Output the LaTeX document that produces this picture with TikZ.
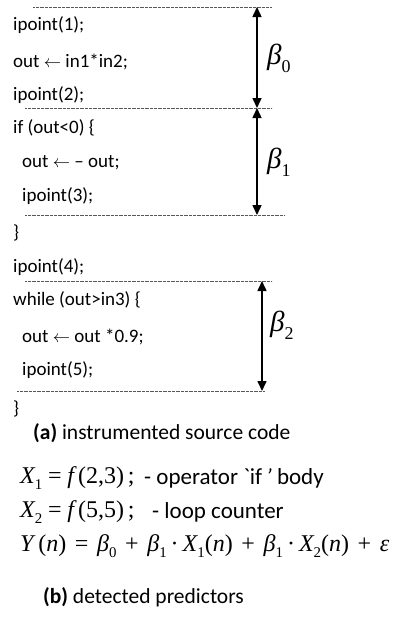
\documentclass[tikz,border=0pt]{standalone}
\usepackage{fontspec}
\setmainfont{Carlito}
\newfontfamily\tms{Liberation Serif}
\usetikzlibrary{arrows.meta}
\newcommand\mi[1]{{\tms\itshape #1}}
\newcommand\mr[1]{{\tms #1}}
\newcommand\sbs[1]{\raisebox{-0.28em}{\scalebox{0.62}{\tms #1}}}
\newcommand\opsp{\hspace{0.36em}}
\newcommand\smsp{\hspace{0.24em}}
\tikzset{
  code/.style={anchor=west, inner sep=0pt, font=\fontsize{19}{22}\selectfont},
  captxt/.style={anchor=west, inner sep=0pt, font=\fontsize{21.5}{25}\selectfont},
  eq/.style={anchor=west, inner sep=0pt, font=\fontsize{24}{28}\selectfont},
  lbl/.style={anchor=west, inner sep=0pt, font=\fontsize{23}{27}\selectfont},
  betalbl/.style={anchor=west, inner sep=0pt, font=\fontsize{29}{34}\selectfont},
  sepline/.style={gray!70!black, line width=0.7pt, dash pattern=on 0.7pt off 0.6pt},
  spanarrow/.style={line width=1.5pt, {Triangle[length=10pt,width=9pt]}-{Triangle[length=10pt,width=9pt]}}
}
\begin{document}
\begin{tikzpicture}[x=1pt,y=-1pt]
\useasboundingbox (0,0) rectangle (402,633);
% separators
\coordinate (l1a) at (33,7);   \coordinate (l1b) at (272,7);
\coordinate (l2a) at (25,108); \coordinate (l2b) at (272,108);
\coordinate (l3a) at (25,215); \coordinate (l3b) at (285,215);
\coordinate (l4a) at (25,281); \coordinate (l4b) at (272,281);
\coordinate (l5a) at (17,391); \coordinate (l5b) at (265,391);
\draw[sepline] (l1a) -- (l1b);
\draw[sepline] (l2a) -- (l2b);
\draw[sepline] (l3a) -- (l3b);
\draw[sepline] (l4a) -- (l4b);
\draw[sepline] (l5a) -- (l5b);
% arrows
\coordinate (a0t) at (257,7);   \coordinate (a0b) at (257,108);
\coordinate (a1t) at (257,108); \coordinate (a1b) at (257,215);
\coordinate (a2t) at (262,281); \coordinate (a2b) at (262,391);
\draw[spanarrow] (a0t) -- (a0b);
\draw[spanarrow] (a1t) -- (a1b);
\draw[spanarrow] (a2t) -- (a2b);
\node[betalbl] (b0) at (267,58) {\mi{β}\sbs{0}};
\node[betalbl] (b1) at (267,162) {\mi{β}\sbs{1}};
\node[betalbl] (b2) at (270,325) {\mi{β}\sbs{2}};
% code
\node[code] (c1) at (13,25) {ipoint(1);};
\node[code] (c2) at (13,62) {out $\leftarrow$ in1*in2;};
\node[code] (c3) at (13,95) {ipoint(2);};
\node[code] (c4) at (13,128) {if (out<0) \{};
\node[code] (c5) at (22,163) {out $\leftarrow$ – out;};
\node[code] (c6) at (22,196) {ipoint(3);};
\node[code] (c7) at (13,233) {\}};
\node[code] (c8) at (13,267) {ipoint(4);};
\node[code] (c9) at (13,300) {while (out>in3) \{};
\node[code] (c10) at (22,337) {out $\leftarrow$ out *0.9;};
\node[code] (c11) at (22,370) {ipoint(5);};
\node[code] (c12) at (13,409) {\}};
\node[captxt] (capa) at (33,433) {\textbf{(a)} instrumented source code};
% predictors
\node[eq] (e1) at (20,478) {\mi{X}\sbs{1}\smsp\mr{=}\smsp\mi{f}\,\mr{(2,3)}\,\mr{;}};
\node[lbl] (t1) at (144,478) {- operator \textasciigrave if\,\textit{’} body};
\node[eq] (e2) at (20,512) {\mi{X}\sbs{2}\smsp\mr{=}\smsp\mi{f}\,\mr{(5,5)}\,\mr{;}};
\node[lbl] (t2) at (152,512) {- loop counter};
\node[eq] (e3) at (20,546) {\mi{Y}\hspace{0.2em}\mr{(}\mi{n}\mr{)}\opsp\mr{=}\opsp\mi{β}\sbs{0}\opsp\mr{+}\opsp\mi{β}\sbs{1}\,\mr{·}\,\mi{X}\sbs{1}\mr{(}\mi{n}\mr{)}\opsp\mr{+}\opsp\mi{β}\sbs{1}\,\mr{·}\,\mi{X}\sbs{2}\mr{(}\mi{n}\mr{)}\opsp\mr{+}\opsp\mi{ε}};
\node[captxt] (capb) at (43,597) {\textbf{(b)} detected predictors};
\end{tikzpicture}
\end{document}
